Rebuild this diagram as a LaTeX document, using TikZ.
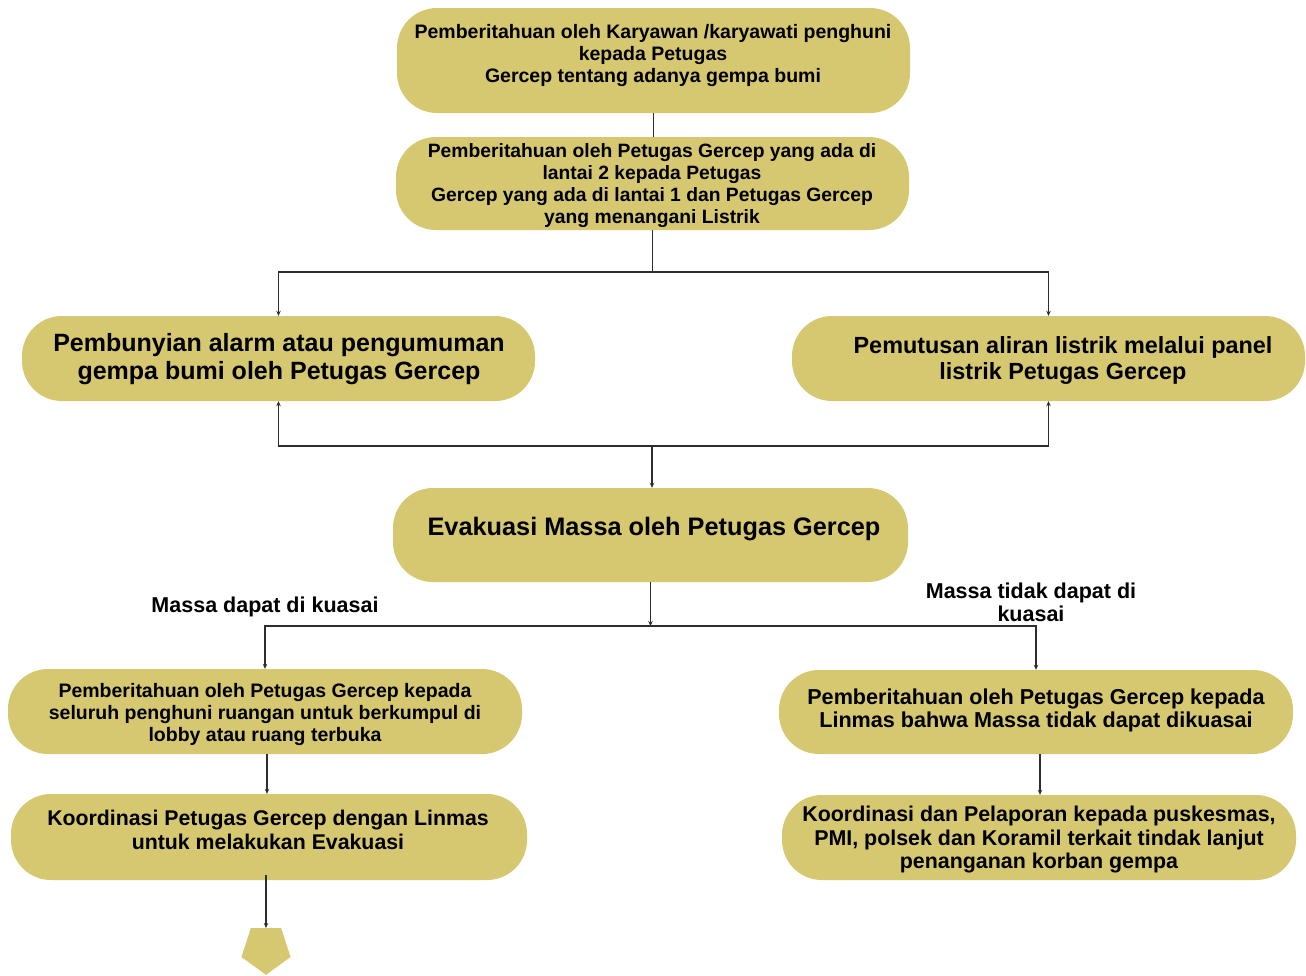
\documentclass[tikz,border=0pt]{standalone}
\usepackage{fontspec}
\setmainfont{Liberation Sans}
\usetikzlibrary{arrows.meta,shapes.geometric}
\definecolor{boxfill}{RGB}{214,200,112}
\definecolor{linec}{RGB}{45,45,45}
\begin{document}
\begin{tikzpicture}[x=1pt,y=-1pt,
  box/.style={fill=boxfill, draw=none, rounded corners=40pt, inner sep=0pt},
  txt/.style={align=center, inner sep=0pt, text=black, yshift=-2.5pt},
  conn/.style={draw=linec, line width=1.2pt},
  arr/.style={conn, -{Stealth[length=5pt,width=4.5pt]}}]
\useasboundingbox (0,0) rectangle (1306,975);

% boxes
\node[box, minimum width=513pt, minimum height=105pt] (b1) at (653.5,60.5) {};
\node[box, minimum width=513pt, minimum height=93pt] (b2) at (652.5,183.5) {};
\node[box, minimum width=513pt, minimum height=85pt] (b3) at (278.5,358.5) {};
\node[box, minimum width=513pt, minimum height=85pt] (b4) at (1048.5,358.5) {};
\node[box, minimum width=515pt, minimum height=94pt] (b5) at (650.5,535) {};
\node[box, minimum width=514pt, minimum height=85pt] (b6) at (265,711.5) {};
\node[box, minimum width=516pt, minimum height=86pt] (b7) at (269,837) {};
\node[box, minimum width=514pt, minimum height=84pt] (b8) at (1036,712) {};
\node[box, minimum width=514pt, minimum height=85pt] (b9) at (1039,837.5) {};
\node[regular polygon, regular polygon sides=5, shape border rotate=180,
      fill=boxfill, draw=none, inner sep=0pt, minimum size=51.6pt] (p) at (266,949) {};

% texts
\node[txt, font=\bfseries\fontsize{19.5}{22}\selectfont] (t1) at (653,53)
  {Pemberitahuan oleh Karyawan /karyawati penghuni\\kepada Petugas\\Gercep tentang adanya gempa bumi};
\node[txt, font=\bfseries\fontsize{19.3}{22}\selectfont] (t2) at (652,183)
  {Pemberitahuan oleh Petugas Gercep yang ada di\\lantai 2 kepada Petugas\\Gercep yang ada di lantai 1 dan Petugas Gercep\\yang menangani Listrik};
\node[txt, font=\bfseries\fontsize{25}{28}\selectfont] (t3) at (279,357)
  {Pembunyian alarm atau pengumuman\\gempa bumi oleh Petugas Gercep};
\node[txt, font=\bfseries\fontsize{23.4}{26}\selectfont] (t4) at (1063,358)
  {Pemutusan aliran listrik melalui panel\\listrik Petugas Gercep};
\node[txt, font=\bfseries\fontsize{25.3}{28}\selectfont] (t5) at (654,527)
  {Evakuasi Massa oleh Petugas Gercep};
\node[txt, font=\bfseries\fontsize{19.5}{22}\selectfont] (t6) at (265,712)
  {Pemberitahuan oleh Petugas Gercep kepada\\seluruh penghuni ruangan untuk berkumpul di\\lobby atau ruang terbuka};
\node[txt, font=\bfseries\fontsize{21.3}{23.5}\selectfont] (t7) at (268,827.5)
  {Koordinasi Petugas Gercep dengan Linmas\\untuk melakukan Evakuasi};
\node[txt, font=\bfseries\fontsize{21.6}{23.5}\selectfont] (t8) at (1036,708)
  {Pemberitahuan oleh Petugas Gercep kepada\\Linmas bahwa Massa tidak dapat dikuasai};
\node[txt, font=\bfseries\fontsize{21.4}{23.5}\selectfont] (t9) at (1039,837)
  {Koordinasi dan Pelaporan kepada puskesmas,\\PMI, polsek dan Koramil terkait tindak lanjut\\penanganan korban gempa};
\node[txt, font=\bfseries\fontsize{21.5}{23}\selectfont] (l1) at (265,604)
  {Massa dapat di kuasai};
\node[txt, font=\bfseries\fontsize{21.5}{23}\selectfont] (l2) at (1031,599.5)
  {Massa tidak dapat di\\kuasai};

% junctions
\coordinate (j1) at (652.5,272);
\coordinate (j2) at (652,446);
\coordinate (j3) at (650.5,626);

% connectors
\draw[conn] (b1.south) -- (b1.south |- b2.north);
\draw[conn] (b2.south) -- (j1);
\draw[arr] (j1) -| (b3.north);
\draw[arr] (j1) -| (b4.north);
\draw[arr] (j2) -| (b3.south);
\draw[arr] (j2) -| (b4.south);
\draw[arr] (j2) -- (j2 |- b5.north);
\draw[arr] (b5.south) -- (j3);
\draw[arr] (j3) -| (b6.north);
\draw[arr] (j3) -| (b8.north);
\draw[arr] ([xshift=2pt]b6.south) -- ([xshift=2pt]b6.south |- b7.north);
\draw[arr] ([xshift=4pt]b8.south) -- ([xshift=4pt]b8.south |- b9.north);
\draw[arr] ([yshift=5pt]b7.south -| p.north) -- (p.north);
\end{tikzpicture}
\end{document}
